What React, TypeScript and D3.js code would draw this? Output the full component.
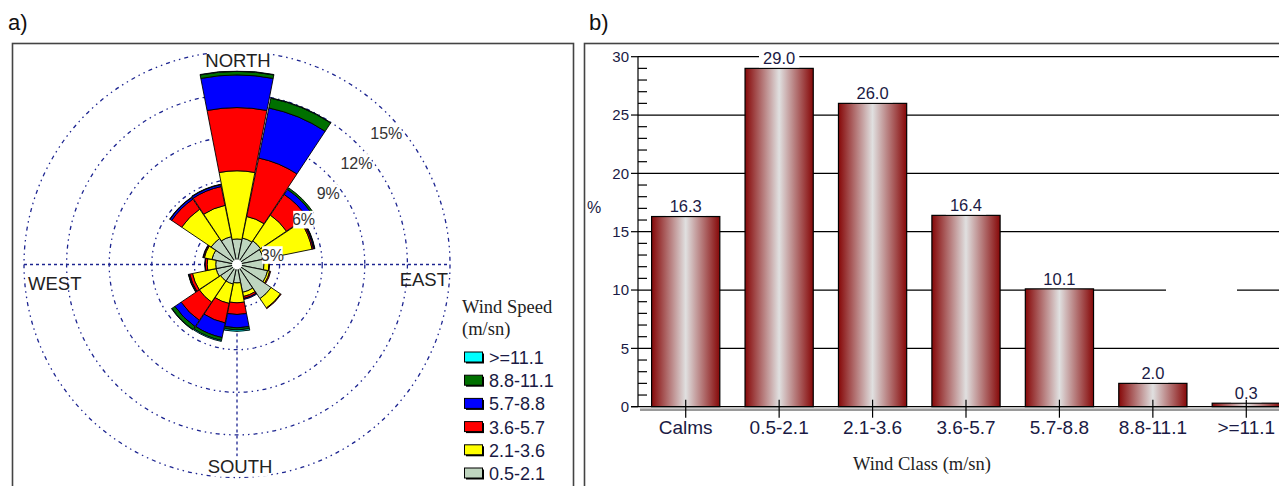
import * as d3 from 'd3';

// ---- wind rose data (percent of time, per direction and speed class) ----
const directions = ['N', 'NNE', 'NE', 'ENE', 'E', 'ESE', 'SE', 'SSE', 'S', 'SSW', 'SW', 'WSW', 'W', 'WNW', 'NW', 'NNW'];
const speedKeys = ['0.5-2.1', '2.1-3.6', '3.6-5.7', '5.7-8.8', '8.8-11.1', '>=11.1'];
const speedColors = ['#bfd5bf', '#ffff00', '#ff0000', '#0000ff', '#007000', '#00ffff'];

const freq05to21 = [1.8, 1.9, 2.0, 1.9, 1.9, 2.2, 2.9, 2.0, 1.3, 1.4, 1.4, 1.5, 1.5, 1.8, 2.2, 2.0];
const freq21to36 = [4.8, 1.55, 2.2, 3.5, 0.35, 0.15, 0.8, 0.3, 1.4, 1.4, 1.8, 1.7, 0.6, 0.55, 2.5, 2.25];
const freq36to57 = [4.45, 4.2, 1.75, 0.1, 0.05, 0.07, 0.05, 0.14, 0.82, 1.4, 1.55, 0.2, 0.14, 0.07, 0.85, 1.35];
const freq57to88 = [2.3, 3.6, 0.42, 0.07, 0, 0, 0, 0.07, 0.94, 1.05, 0.53, 0.07, 0.04, 0.04, 0.14, 0.14];
const freq88to111 = [0.25, 0.7, 0.14, 0.03, 0, 0, 0, 0, 0.15, 0.21, 0.25, 0.03, 0, 0, 0.03, 0.03];
const freqOver111 = [0.03, 0.03, 0, 0, 0, 0, 0, 0, 0.1, 0.07, 0.03, 0, 0, 0, 0, 0];

const ringValues = [3, 6, 9, 12, 15];

// ---- bar chart data ----
const windClasses = ['Calms', '0.5-2.1', '2.1-3.6', '3.6-5.7', '5.7-8.8', '8.8-11.1', '>=11.1'];
const classPercent = [16.3, 29.0, 26.0, 16.4, 10.1, 2.0, 0.3];

const SANS = '"Liberation Sans", Arial, sans-serif';
const SERIF = '"Liberation Serif", "Times New Roman", serif';
const NAVY = '#1c2490';
const INK = '#1a1a44';

function LabelBox({ x, y, text, size, fill = '#333', family = SANS }: { x: number; y: number; text: string; size: number; fill?: string; family?: string }) {
    const w = text.length * size * 0.58 + 2;
    return (
        <g>
            <rect x={x - w / 2} y={y - size * 0.55} width={w} height={size * 1.1} fill="white" />
            <text x={x} y={y} dy="0.36em" textAnchor="middle" style={{ font: `${size}px ${family}`, fill }}>{text}</text>
        </g>
    );
}

function WindRose() {
    const cx = 237, cy = 264.5;
    const r = d3.scaleLinear().domain([0, 15]).range([0, 213]);
    const half = (11 * Math.PI) / 180;

    const rows = directions.map((d, i) => ({
        dir: d,
        '0.5-2.1': freq05to21[i],
        '2.1-3.6': freq21to36[i],
        '3.6-5.7': freq36to57[i],
        '5.7-8.8': freq57to88[i],
        '8.8-11.1': freq88to111[i],
        '>=11.1': freqOver111[i],
    }));
    const series = d3.stack<any>().keys(speedKeys)(rows);
    const arc = d3.arc<any>();

    const segments: JSX.Element[] = [];
    series.forEach((s, k) => {
        s.forEach((seg, i) => {
            if (seg[1] - seg[0] <= 0) return;
            const a = (i * 22.5 * Math.PI) / 180;
            const d = arc({ innerRadius: r(seg[0]), outerRadius: r(seg[1]), startAngle: a - half, endAngle: a + half });
            segments.push(<path key={`${k}-${i}`} d={d || ''} fill={speedColors[k]} stroke="#000" strokeWidth={0.9} strokeLinejoin="round" />);
        });
    });

    // ring label placement: angle from north (deg) and inset (px)
    const ringLabelAngle = [75, 56, 52, 49.6, 48.6];
    const ringLabelInset = [6, 5, 12, 13.6, 14];
    const R = r(15);

    return (
        <g>
            {ringValues.map((v) => (
                <circle key={v} cx={cx} cy={cy} r={r(v)} fill="none" stroke={NAVY} strokeWidth={1.3} strokeDasharray="4 4 1.5 4 1.5 4" />
            ))}
            <line x1={cx - R} x2={cx + R} y1={cy} y2={cy} stroke={NAVY} strokeWidth={1.3} strokeDasharray="3 3" />
            <line x1={cx} x2={cx} y1={cy - R} y2={cy + R} stroke={NAVY} strokeWidth={1.3} strokeDasharray="3 3" />
            <g transform={`translate(${cx},${cy})`}>
                {segments}
                <circle r={5} fill="white" />
            </g>
            {ringValues.map((v, i) => {
                const a = (ringLabelAngle[i] * Math.PI) / 180;
                const rr = r(v) - ringLabelInset[i];
                return <LabelBox key={v} x={cx + rr * Math.sin(a)} y={cy - rr * Math.cos(a)} text={`${v}%`} size={16} />;
            })}
            <LabelBox x={cx + 1} y={cy - R + 9} text="NORTH" size={18.5} fill="#222" />
            <LabelBox x={cx + 3} y={cy + R - 11} text="SOUTH" size={18.5} fill="#222" />
            <text x={28} y={cy + 19} dy="0.36em" style={{ font: `18.5px ${SANS}`, fill: '#222' }}>WEST</text>
            <text x={448} y={cy + 15} dy="0.36em" textAnchor="end" style={{ font: `18.5px ${SANS}`, fill: '#222' }}>EAST</text>

            {/* legend */}
            <text x={462} y={313} style={{ font: `18.5px ${SERIF}`, fill: '#222' }}>Wind Speed</text>
            <text x={462} y={335} style={{ font: `18.5px ${SERIF}`, fill: '#222' }}>(m/sn)</text>
            {speedKeys.slice().reverse().map((key, j) => {
                const k = speedKeys.length - 1 - j;
                const yc = 357.5 + j * 23.2;
                return (
                    <g key={key}>
                        <rect x={466} y={yc - 4} width={18} height={10} fill="#000" />
                        <rect x={464.5} y={yc - 5.5} width={18} height={10} fill={speedColors[k]} stroke="#000" strokeWidth={1} />
                        <text x={489} y={yc} dy="0.36em" style={{ font: `18px ${SANS}`, fill: INK }}>{key}</text>
                    </g>
                );
            })}
        </g>
    );
}

function BarChart() {
    const y = d3.scaleLinear().domain([0, 30]).range([406.7, 56.7]);
    const x = d3.scaleBand<string>().domain(windClasses).range([639, 1293]).paddingInner(0.27).paddingOuter(0.135);
    const axisX = 638;
    const right = 1279;

    const minor = y.ticks(30);
    const major = y.ticks(6);

    return (
        <g>
            <defs>
                <linearGradient id="barGrad" x1="0" x2="1" y1="0" y2="0">
                    <stop offset="0" stopColor="#860808" />
                    <stop offset="0.5" stopColor="#e0e0e0" />
                    <stop offset="1" stopColor="#860808" />
                </linearGradient>
            </defs>
            {major.filter((t) => t > 0).map((t) => (
                <line key={t} x1={axisX} x2={right} y1={y(t)} y2={y(t)} stroke="#000" strokeWidth={1.2} />
            ))}
            {/* blank patch on the 10% line */}
            <rect x={1166} y={y(10) - 3} width={71} height={6} fill="white" />

            {classPercent.map((v, i) => {
                const c = windClasses[i];
                const x0 = x(c) || 0;
                return (
                    <g key={c}>
                        <rect x={x0} y={y(v)} width={x.bandwidth()} height={y(0) - y(v)} fill="url(#barGrad)" stroke="#000" strokeWidth={1.2} />
                        <LabelBox x={x0 + x.bandwidth() / 2} y={y(v) - 10} text={v.toFixed(1)} size={16.5} fill={INK} />
                    </g>
                );
            })}

            {/* y axis */}
            <line x1={axisX} x2={axisX} y1={y(30)} y2={y(0)} stroke="#000" strokeWidth={1.2} />
            {minor.filter((t) => t % 5 !== 0).map((t) => (
                <line key={t} x1={axisX} x2={axisX + 9} y1={y(t)} y2={y(t)} stroke="#000" strokeWidth={1.2} />
            ))}
            {major.map((t) => (
                <g key={t}>
                    <line x1={axisX - 7} x2={axisX} y1={y(t)} y2={y(t)} stroke="#000" strokeWidth={1.2} />
                    <text x={axisX - 9} y={y(t)} dy="0.36em" textAnchor="end" style={{ font: `15px ${SANS}`, fill: INK }}>{t}</text>
                </g>
            ))}
            <text x={587} y={207} dy="0.36em" style={{ font: `16px ${SANS}`, fill: INK }}>%</text>

            {/* x axis */}
            <line x1={axisX + 2} x2={right} y1={y(0) + 3} y2={y(0) + 3} stroke="#9a9a9a" strokeWidth={2.5} />
            <line x1={axisX - 7} x2={right} y1={y(0)} y2={y(0)} stroke="#000" strokeWidth={1.3} />
            {windClasses.map((c) => {
                const xc = (x(c) || 0) + x.bandwidth() / 2;
                return (
                    <g key={c}>
                        <line x1={xc} x2={xc} y1={y(0) - 7} y2={y(0) + 11} stroke="#000" strokeWidth={1.2} />
                        <text x={xc} y={434} textAnchor="middle" style={{ font: `19px ${SANS}`, fill: INK }}>{c}</text>
                    </g>
                );
            })}
            <text x={922} y={470} textAnchor="middle" style={{ font: `18.5px ${SERIF}`, fill: '#222' }}>Wind Class (m/sn)</text>
        </g>
    );
}

export default function App() {
    return (
        <div style={{ position: 'absolute', left: 0, top: 0 }}>
            <svg width={1279} height={486} style={{ display: 'block', background: 'white' }}>
                <text x={8} y={30} style={{ font: `22px ${SANS}`, fill: '#111' }}>a)</text>
                <text x={589} y={30} style={{ font: `22px ${SANS}`, fill: '#111' }}>b)</text>
                <rect x={12.5} y={43.5} width={561} height={460} fill="none" stroke="#444" strokeWidth={1.6} />
                <rect x={584.5} y={43.5} width={720} height={460} fill="none" stroke="#444" strokeWidth={1.6} />
                <WindRose />
                <BarChart />
            </svg>
        </div>
    );
}
